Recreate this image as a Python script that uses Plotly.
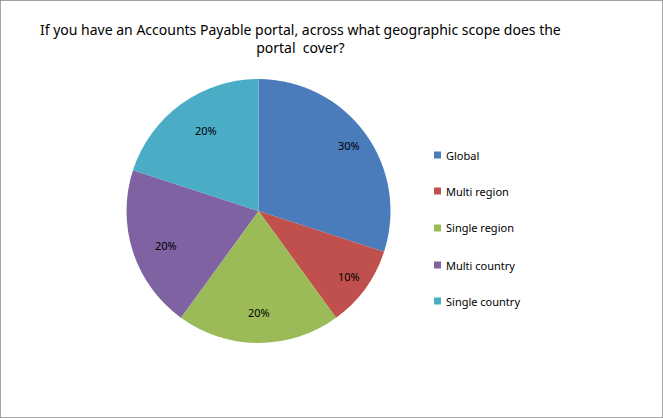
import math
import plotly.graph_objects as go

labels = ["Global", "Multi region", "Single region", "Multi country", "Single country"]
values = [30, 10, 20, 20, 20]
colors = ["#4A7CBC", "#C0504D", "#9BBB59", "#7F62A1", "#4BACC6"]

W, H = 663, 418
FONT = "Noto Sans, Open Sans"

# pie box in pixels
px0, px1, py0, py1 = 126, 391, 79, 343
cx, cy = (px0 + px1) / 2, (py0 + py1) / 2
rad = (px1 - px0) / 2

fig = go.Figure()
fig.add_trace(go.Pie(
    labels=labels, values=values, sort=False, direction="clockwise", rotation=0,
    marker=dict(colors=colors, line=dict(width=0)),
    textinfo="none",
    domain=dict(x=[px0 / W, px1 / W], y=[(H - py1) / H, (H - py0) / H]),
    showlegend=False, hoverinfo="label+percent",
))

shapes = [dict(type="rect", xref="paper", yref="paper", x0=0, y0=0, x1=1, y1=1,
               line=dict(color="#868686", width=1.5), fillcolor="rgba(0,0,0,0)")]
annotations = []

# percent labels, Excel style (near the outer edge)
total = sum(values)
start = 0
for v in values:
    mid = (start + v / 2) / total * 2 * math.pi
    start += v
    lx = cx + 0.84 * rad * math.sin(mid)
    ly = cy - 0.84 * rad * math.cos(mid)
    annotations.append(dict(x=lx / W, y=(H - ly) / H, xref="paper", yref="paper",
                            text=f"{round(v / total * 100)}%", showarrow=False,
                            font=dict(size=11, color="#000000", family=FONT)))

# legend drawn by hand to get Excel-like spacing
leg_y = [155, 191, 228, 265, 301]
for name, col, yy in zip(labels, colors, leg_y):
    shapes.append(dict(type="rect", xref="paper", yref="paper",
                       x0=434 / W, x1=441 / W, y0=(H - yy - 3.5) / H, y1=(H - yy + 3.5) / H,
                       fillcolor=col, line=dict(width=0)))
    annotations.append(dict(x=444 / W, y=(H - yy) / H, xref="paper", yref="paper",
                            text=name, showarrow=False, xanchor="left", yanchor="middle",
                            font=dict(size=11, color="#000000", family=FONT)))

annotations.append(dict(x=300 / W, y=(H - 38) / H, xref="paper", yref="paper",
                        text="If you have an Accounts Payable portal, across what geographic scope does the<br>portal  cover?",
                        showarrow=False, xanchor="center", yanchor="middle", align="center",
                        font=dict(size=14, color="#000000", family=FONT)))

fig.update_layout(width=W, height=H, margin=dict(l=0, r=0, t=0, b=0),
                  paper_bgcolor="white", plot_bgcolor="white",
                  shapes=shapes, annotations=annotations)

fig.write_html("out.html", config={"displayModeBar": False},
               post_script="document.body.style.margin='0';")
